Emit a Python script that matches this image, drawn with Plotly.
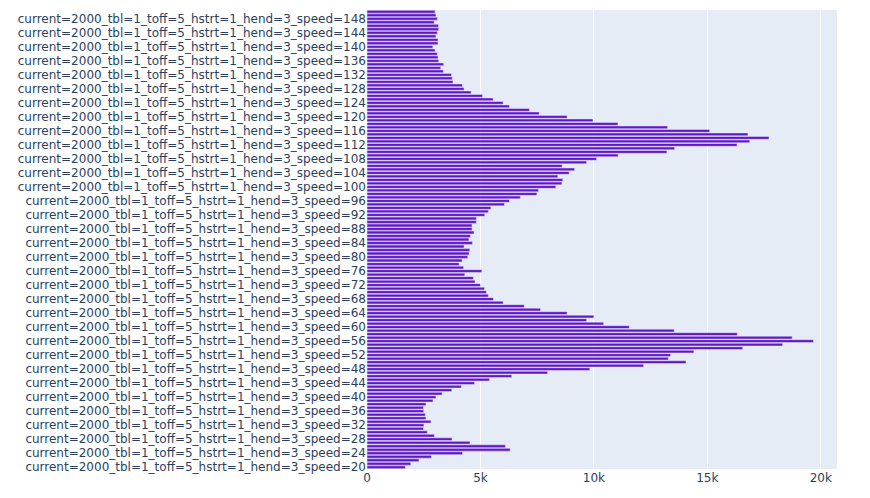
import plotly.graph_objects as go

speeds = list(range(20, 151))
labels = [f"current=2000_tbl=1_toff=5_hstrt=1_hend=3_speed={s}" for s in speeds]

# values in thousands, speed 20 -> 150
vals_k = [
    1.69, 1.93, 2.29, 2.84, 4.21, 6.31, 6.10, 4.54, 3.75, 2.97,   # 20-29
    2.66, 2.49, 2.51, 2.82, 2.60, 2.57, 2.50, 2.49, 2.60, 2.91,   # 30-39
    3.04, 3.31, 3.74, 4.16, 4.74, 5.40, 6.38, 7.96, 9.82, 12.19,  # 40-49
    14.06, 13.28, 13.38, 14.41, 16.56, 18.32, 19.68, 18.74, 16.32, 13.54,  # 50-59
    11.56, 10.43, 9.68, 10.00, 8.82, 7.65, 6.93, 6.00, 5.57, 5.35,  # 60-69
    5.26, 5.18, 5.00, 4.76, 4.69, 4.31, 5.06, 4.26, 4.06, 4.19,   # 70-79
    4.44, 4.50, 4.53, 4.28, 4.65, 4.49, 4.56, 4.72, 4.63, 4.63,   # 80-89
    4.82, 4.82, 5.19, 5.35, 5.46, 6.06, 6.28, 6.76, 7.49, 7.56,   # 90-99
    8.32, 8.59, 8.63, 8.41, 8.91, 9.15, 8.60, 9.68, 10.12, 11.07, # 100-109
    13.22, 13.56, 16.31, 16.87, 17.72, 16.79, 15.10, 13.25, 11.06, 9.96,  # 110-119
    8.82, 7.59, 7.16, 6.28, 6.00, 5.56, 5.09, 4.59, 4.28, 4.20,   # 120-129
    3.79, 3.76, 3.72, 3.37, 3.25, 3.38, 3.16, 3.13, 3.10, 3.00,   # 130-139
    2.90, 3.13, 3.13, 3.04, 3.10, 3.16, 3.15, 2.96, 3.10, 3.04,   # 140-149
    3.00,                                                          # 150
]
values = [v * 1000 for v in vals_k]

fig = go.Figure(
    go.Bar(
        x=values,
        y=labels,
        orientation="h",
        marker=dict(color="#6217C6"),
    )
)
fig.update_layout(
    template="plotly",
    width=870,
    height=498,
    margin=dict(l=367, r=33, t=10, b=29),
    showlegend=False,
    font=dict(family="DejaVu Sans", size=12, color="#2a3f5f"),
)
fig.update_yaxes(type="category", dtick=4, tick0=0)
fig.write_html("out.html")
